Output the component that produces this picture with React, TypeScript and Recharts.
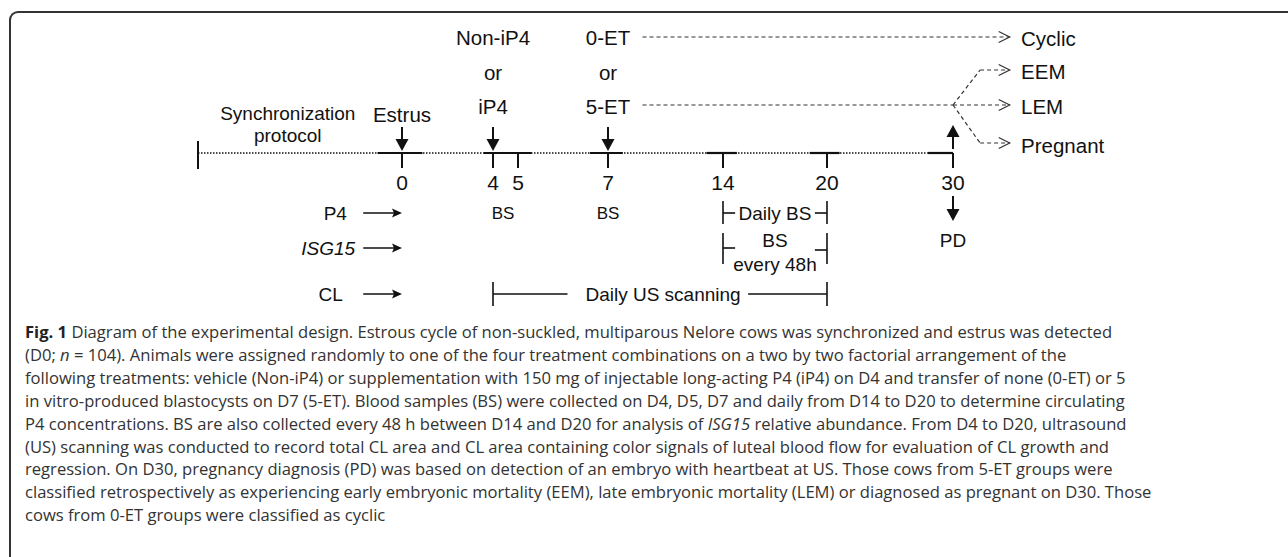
import React from "react";
import { ComposedChart, XAxis, YAxis, ReferenceLine, ReferenceDot } from "recharts";

const W = 1288;
const H = 557;
const CHART_H = 320;
const LINE_Y = 153; // timeline sits at the bottom of the plot area
const AXIS_H = 40;

const FONT = '"Liberation Sans", Arial, Helvetica, sans-serif';
const CAPTION_FONT = '"Open Sans", "Noto Sans", sans-serif';
const INK = "#111";
const DASH_INK = "#333";

// ---- data ----
const DAYS = [0, 4, 5, 7, 14, 20, 30];
const PROTOCOL_START = -10;
// solid stretches of the timeline around each event (days); the rest is dotted
const SOLID_SPANS: [number, number][] = [
  [-1.2, 0.9],
  [3.6, 5.3],
  [6.6, 7.9],
  [13.0, 14.8],
  [19.0, 21.0],
  [28.0, 30],
];
const ESTRUS_DAY = 0;
const IP4_DAY = 4;
const ET_DAY = 7;
const PD_DAY = 30;
const BS_DAYS = [4.4, 7];
const DAILY_BS: [number, number] = [14, 20];
const US_SPAN: [number, number] = [4, 20];

const SYNC_LABEL = ["Synchronization", "protocol"];
const IP4_LABELS = ["Non-iP4", "or", "iP4"];
const ET_LABELS = ["0-ET", "or", "5-ET"];
const OUTCOMES = ["Cyclic", "EEM", "LEM", "Pregnant"];
const MEASURES = ["P4", "ISG15", "CL"];

const CAPTION = [
  "Diagram of the experimental design. Estrous cycle of non-suckled, multiparous Nelore cows was synchronized and estrus was detected",
  "(D0; |n| = 104). Animals were assigned randomly to one of the four treatment combinations on a two by two factorial arrangement of the",
  "following treatments: vehicle (Non-iP4) or supplementation with 150 mg of injectable long-acting P4 (iP4) on D4 and transfer of none (0-ET) or 5",
  "in vitro-produced blastocysts on D7 (5-ET). Blood samples (BS) were collected on D4, D5, D7 and daily from D14 to D20 to determine circulating",
  "P4 concentrations. BS are also collected every 48 h between D14 and D20 for analysis of |ISG15| relative abundance. From D4 to D20, ultrasound",
  "(US) scanning was conducted to record total CL area and CL area containing color signals of luteal blood flow for evaluation of CL growth and",
  "regression. On D30, pregnancy diagnosis (PD) was based on detection of an embryo with heartbeat at US. Those cows from 5-ET groups were",
  "classified retrospectively as experiencing early embryonic mortality (EEM), late embryonic mortality (LEM) or diagnosed as pregnant on D30. Those",
  "cows from 0-ET groups were classified as cyclic",
];

// ---- layout ----
// the drawn timeline is not to scale: piecewise stretch of days across the width
const KNOT_DAYS = [-10, 0, 4, 5, 7, 14, 20, 30, 40];
const KNOT_PX = [198, 402, 493, 518, 608, 723, 827, 953, 1079];
const TOP_ROWS = [37, 72, 106];
const OUTCOME_ROWS = [38, 71, 106, 145];
const MEASURE_ROWS = [213, 248, 294];
const SYNC_ROWS = [113, 135];
const SYNC_X = -5.6;
const ESTRUS_Y = 114;
const MEASURE_TEXT_END = [-2.7, -2.3, -2.9];
const MEASURE_ARROW_START = -1.9;
const DASH_START = 9.1;
const BRANCH_X = 32.15;
const OUTCOME_TIP = 34.5;
const OUTCOME_TEXT = 35.4;
const BRACKET_STUB = 0.7;
const US_GAP: [number, number] = [6.1, 15.45];
const US_TEXT_X = 10.35;
const BRACKET_TEXT_X = 17;

function makeTimelineScale(dom: number[] = [-20, 57], rng: number[] = [0, W]): any {
  const interp = (d: number) => {
    let i = 0;
    while (i < KNOT_DAYS.length - 2 && d > KNOT_DAYS[i + 1]) i++;
    const d0 = KNOT_DAYS[i];
    const d1 = KNOT_DAYS[i + 1];
    return KNOT_PX[i] + ((d - d0) / (d1 - d0)) * (KNOT_PX[i + 1] - KNOT_PX[i]);
  };
  const s: any = (d: number) => rng[0] + (interp(Number(d)) / W) * (rng[1] - rng[0]);
  s.domain = (d?: number[]) => {
    if (d === undefined) return dom.slice();
    dom = d.slice();
    return s;
  };
  s.range = (r?: number[]) => {
    if (r === undefined) return rng.slice();
    rng = r.slice();
    return s;
  };
  s.copy = () => makeTimelineScale(dom.slice(), rng.slice());
  s.ticks = () => DAYS.slice();
  return s;
}
const timelineScale = makeTimelineScale();

const textShape =
  (text: string, size: number, anchor: "start" | "middle" | "end" = "middle", italic = false) =>
  (p: any) => (
    <text
      x={p.cx}
      y={p.cy}
      textAnchor={anchor}
      dominantBaseline="central"
      fontSize={size}
      fontFamily={FONT}
      fontStyle={italic ? "italic" : "normal"}
      fill={INK}
    >
      {text}
    </text>
  );

// vertical arrow whose tip is at (cx, cy); dir 1 = pointing down, -1 = up
const vArrow = (len: number, dir: 1 | -1) => (p: any) => {
  const { cx, cy } = p;
  const head = 12;
  return (
    <g>
      <line x1={cx} x2={cx} y1={cy - dir * len} y2={cy - dir * (head - 2)} stroke={INK} strokeWidth={2} />
      <polygon points={`${cx - 6.5},${cy - dir * head} ${cx + 6.5},${cy - dir * head} ${cx},${cy}`} fill={INK} />
    </g>
  );
};

const rightHead = (p: any) => (
  <polygon points={`${p.cx - 10},${p.cy - 4.5} ${p.cx},${p.cy} ${p.cx - 10},${p.cy + 4.5} ${p.cx - 8},${p.cy}`} fill={INK} />
);

const chevron = (p: any) => (
  <polyline
    points={`${p.cx - 11},${p.cy - 5.5} ${p.cx},${p.cy} ${p.cx - 11},${p.cy + 5.5}`}
    fill="none"
    stroke={DASH_INK}
    strokeWidth={1.2}
  />
);

const seg = (x1: number, y1: number, x2: number, y2: number, key: string, extra: any = {}) => (
  <ReferenceLine
    key={key}
    segment={[{ x: x1, y: y1 }, { x: x2, y: y2 }]}
    stroke={INK}
    strokeWidth={2}
    ifOverflow="visible"
    {...extra}
  />
);

const dot = (x: number, y: number, shape: any, key: string) => (
  <ReferenceDot key={key} x={x} y={y} r={0} shape={shape} ifOverflow="visible" isFront />
);

function renderCaptionLine(line: string) {
  // |...| marks italic runs
  return line.split("|").map((part, i) =>
    i % 2 === 1 ? (
      <i key={i}>{part}</i>
    ) : (
      <React.Fragment key={i}>{part}</React.Fragment>
    )
  );
}

export default function App() {
  const dashed = { stroke: DASH_INK, strokeWidth: 1.2, strokeDasharray: "4 3" };
  const dotted = { strokeWidth: 1.6, strokeDasharray: "1.5 1.5" };
  const [bsTop, isgRow, clRow] = MEASURE_ROWS;

  return (
    <div style={{ position: "absolute", left: 0, top: 0, width: W, height: H, background: "#fff", overflow: "hidden" }}>
      <div
        style={{
          position: "absolute",
          left: 9,
          top: 11,
          width: W,
          height: H + 20,
          borderTop: "2px solid #333",
          borderLeft: "2px solid #333",
          borderTopLeftRadius: 9,
        }}
      />
      <div style={{ position: "absolute", left: 0, top: 0 }}>
        <ComposedChart
          width={W}
          height={CHART_H}
          data={DAYS.map((d) => ({ day: d }))}
          margin={{ top: 0, right: 0, bottom: CHART_H - LINE_Y - AXIS_H, left: 0 }}
        >
          <XAxis
            type="number"
            dataKey="day"
            domain={[-20, 57]}
            scale={timelineScale}
            ticks={DAYS}
            interval={0}
            allowDataOverflow
            height={AXIS_H}
            axisLine={false}
            tickSize={15}
            tickMargin={7}
            tickLine={{ stroke: INK, strokeWidth: 2 }}
            tick={{ fontSize: 21, fill: INK, fontFamily: FONT }}
          />
          <YAxis type="number" domain={[0, LINE_Y]} reversed hide width={0} allowDataOverflow />

          {/* timeline */}
          {seg(PROTOCOL_START, LINE_Y - 12, PROTOCOL_START, LINE_Y + 16, "start")}
          {seg(PROTOCOL_START, LINE_Y, SOLID_SPANS[SOLID_SPANS.length - 1][0], LINE_Y, "dots", dotted)}
          {SOLID_SPANS.map(([a, b], i) => seg(a, LINE_Y, b, LINE_Y, `solid${i}`, { strokeWidth: 2.2 }))}

          {/* event arrows */}
          {[ESTRUS_DAY, IP4_DAY, ET_DAY].map((d) => dot(d, LINE_Y - 2, vArrow(24, 1), `da${d}`))}
          {dot(PD_DAY, 125, vArrow(24, -1), "ua")}
          {dot(PD_DAY, 221, vArrow(25, 1), "pda")}
          {dot(PD_DAY, 240, textShape("PD", 19), "pd")}

          {/* labels above the timeline */}
          {SYNC_LABEL.map((t, i) => dot(SYNC_X, SYNC_ROWS[i], textShape(t, 19), `sync${i}`))}
          {dot(ESTRUS_DAY, ESTRUS_Y, textShape("Estrus", 20.5), "estrus")}
          {IP4_LABELS.map((t, i) => dot(IP4_DAY, TOP_ROWS[i], textShape(t, 20.5), `ip4${i}`))}
          {ET_LABELS.map((t, i) => dot(ET_DAY, TOP_ROWS[i], textShape(t, 20.5), `et${i}`))}

          {/* outcomes */}
          {seg(DASH_START, TOP_ROWS[0], OUTCOME_TIP, TOP_ROWS[0], "cyc", dashed)}
          {seg(DASH_START, TOP_ROWS[2] - 1, PD_DAY, TOP_ROWS[2] - 1, "five", dashed)}
          {seg(PD_DAY, TOP_ROWS[2] - 1, BRANCH_X, OUTCOME_ROWS[1] - 1, "b1", dashed)}
          {seg(BRANCH_X, OUTCOME_ROWS[1] - 1, OUTCOME_TIP, OUTCOME_ROWS[1] - 1, "b1h", dashed)}
          {seg(PD_DAY, TOP_ROWS[2] - 1, OUTCOME_TIP, TOP_ROWS[2] - 1, "b2", dashed)}
          {seg(PD_DAY, TOP_ROWS[2] - 1, BRANCH_X, OUTCOME_ROWS[3] - 2, "b3", dashed)}
          {seg(BRANCH_X, OUTCOME_ROWS[3] - 2, OUTCOME_TIP, OUTCOME_ROWS[3] - 2, "b3h", dashed)}
          {dot(OUTCOME_TIP, TOP_ROWS[0], chevron, "ch0")}
          {dot(OUTCOME_TIP, OUTCOME_ROWS[1] - 1, chevron, "ch1")}
          {dot(OUTCOME_TIP, TOP_ROWS[2] - 1, chevron, "ch2")}
          {dot(OUTCOME_TIP, OUTCOME_ROWS[3] - 2, chevron, "ch3")}
          {OUTCOMES.map((t, i) => dot(OUTCOME_TEXT, OUTCOME_ROWS[i], textShape(t, 20.5, "start"), `out${i}`))}

          {/* measurement rows */}
          {MEASURES.map((t, i) => dot(MEASURE_TEXT_END[i], MEASURE_ROWS[i], textShape(t, 19, "end", t === "ISG15"), `m${i}`))}
          {MEASURES.map((_, i) => seg(MEASURE_ARROW_START, MEASURE_ROWS[i], -0.3, MEASURE_ROWS[i], `ma${i}`, { strokeWidth: 1.6 }))}
          {MEASURES.map((_, i) => dot(0, MEASURE_ROWS[i], rightHead, `mh${i}`))}

          {BS_DAYS.map((d) => dot(d, bsTop, textShape("BS", 17), `bs${d}`))}

          {/* daily BS bracket */}
          {DAILY_BS.map((d) => seg(d, bsTop - 12, d, bsTop + 11, `dbv${d}`, { strokeWidth: 1.6 }))}
          {seg(DAILY_BS[0], bsTop, DAILY_BS[0] + BRACKET_STUB, bsTop, "dbl", { strokeWidth: 1.6 })}
          {seg(DAILY_BS[1] - BRACKET_STUB, bsTop, DAILY_BS[1], bsTop, "dbr", { strokeWidth: 1.6 })}
          {dot(BRACKET_TEXT_X, bsTop, textShape("Daily BS", 19), "dbt")}

          {/* ISG15 bracket */}
          {DAILY_BS.map((d) => seg(d, isgRow - 15, d, isgRow + 16, `isv${d}`, { strokeWidth: 1.6 }))}
          {seg(DAILY_BS[0], isgRow, DAILY_BS[0] + BRACKET_STUB, isgRow, "isl", { strokeWidth: 1.6 })}
          {seg(DAILY_BS[1] - BRACKET_STUB, isgRow + 2, DAILY_BS[1], isgRow + 2, "isr", { strokeWidth: 1.6 })}
          {dot(BRACKET_TEXT_X, isgRow - 8, textShape("BS", 19), "ist1")}
          {dot(BRACKET_TEXT_X, isgRow + 16, textShape("every 48h", 19), "ist2")}

          {/* ultrasound span */}
          {US_SPAN.map((d) => seg(d, clRow - 12, d, clRow + 12, `usv${d}`, { strokeWidth: 1.6 }))}
          {seg(US_SPAN[0], clRow, US_GAP[0], clRow, "usl", { strokeWidth: 1.6 })}
          {seg(US_GAP[1], clRow, US_SPAN[1], clRow, "usr", { strokeWidth: 1.6 })}
          {dot(US_TEXT_X, clRow, textShape("Daily US scanning", 19), "ust")}
        </ComposedChart>
      </div>
      <div
        style={{
          position: "absolute",
          left: 25,
          top: 321,
          fontFamily: CAPTION_FONT,
          fontSize: 16.6,
          lineHeight: "22.9px",
          color: "#333",
          whiteSpace: "nowrap",
        }}
      >
        {CAPTION.map((line, i) => (
          <div key={i}>
            {i === 0 && <b style={{ color: "#222" }}>Fig. 1 </b>}
            {renderCaptionLine(line)}
          </div>
        ))}
      </div>
    </div>
  );
}
